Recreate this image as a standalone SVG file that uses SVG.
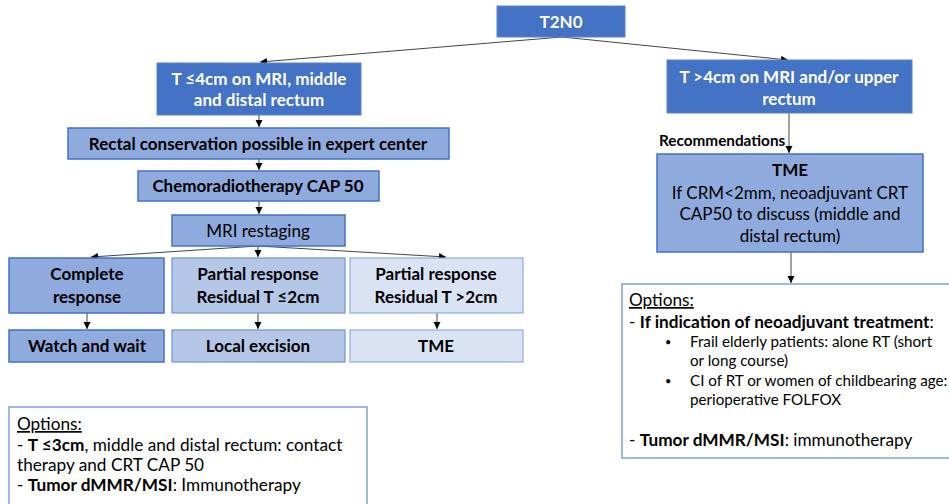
<svg xmlns="http://www.w3.org/2000/svg" width="949" height="504" viewBox="0 0 949 504">
<defs>
<marker id="ah" markerWidth="8" markerHeight="8" refX="7" refY="4" orient="auto" markerUnits="userSpaceOnUse">
<path d="M0,0.5 L7,4 L0,7.5 Z" fill="#000"/>
</marker>
<style>
text{font-family:Lato,"Liberation Sans",sans-serif;text-anchor:middle}
.dk{fill:#4472C4;stroke:#5B83CC;stroke-width:1}
.md{fill:#8FAADC;stroke:#4472C4;stroke-width:1.5}
.lt{fill:#B4C7E7;stroke:#6E93D3;stroke-width:1.2}
.xl{fill:#DAE3F3;stroke:#8FAADC;stroke-width:1.2}
.ob{fill:#fff;stroke:#6E93D3;stroke-width:1.3}
.w{fill:#fff;font-weight:bold;font-size:17px}
.b{fill:#000;font-weight:bold;font-size:17px}
.n{fill:#000;font-size:17px}
.o{fill:#000;font-size:17.2px;text-anchor:start}
.s{fill:#000;font-size:15.2px;text-anchor:start}
.c line{stroke:#444;stroke-width:1;fill:none;marker-end:url(#ah)}
</style>
</defs>
<g class="c">
<line x1="562" y1="37" x2="260" y2="62"/>
<line x1="562" y1="37" x2="788" y2="60"/>
<line x1="259" y1="115" x2="259" y2="127"/>
<line x1="259" y1="159" x2="259" y2="170"/>
<line x1="259" y1="201" x2="259" y2="214"/>
<line x1="258" y1="246" x2="91" y2="257"/>
<line x1="258" y1="246" x2="258" y2="257"/>
<line x1="258" y1="246" x2="446" y2="257"/>
<line x1="87" y1="313" x2="87" y2="329"/>
<line x1="258" y1="313" x2="258" y2="329"/>
<line x1="437" y1="313" x2="437" y2="329"/>
<line x1="789" y1="113" x2="789" y2="153"/>
<line x1="791" y1="252" x2="791" y2="283"/>
</g>
<g id="t2n0"><rect class="dk" x="497" y="6" width="128" height="31"/><text class="w" x="561" y="28">T2N0</text></g>
<g id="left"><rect class="dk" x="157" y="63" width="204" height="52"/><text class="w" x="259" y="85">T ≤4cm on MRI, middle</text><text class="w" x="259" y="106">and distal rectum</text></g>
<g id="right"><rect class="dk" x="667" y="60" width="245" height="53"/><text class="w" x="789" y="83">T &gt;4cm on MRI and/or upper</text><text class="w" x="789" y="105">rectum</text></g>
<g id="conservation"><rect class="md" x="68" y="128" width="381" height="31"/><text class="b" x="258" y="150">Rectal conservation possible in expert center</text></g>
<g id="crt"><rect class="md" x="138" y="171" width="241" height="30"/><text class="b" x="258" y="192">Chemoradiotherapy CAP 50</text></g>
<g id="mri"><rect class="md" x="172" y="215" width="173" height="31"/><text class="n" x="258" y="237">MRI restaging</text></g>
<g id="complete"><rect class="md" x="9" y="258" width="155" height="55"/><text class="b" x="87" y="280">Complete</text><text class="b" x="87" y="303">response</text></g>
<g id="partial2"><rect class="lt" x="172" y="258" width="173" height="55"/><text class="b" x="258" y="280">Partial response</text><text class="b" x="258" y="303">Residual T ≤2cm</text></g>
<g id="partial3"><rect class="xl" x="350" y="258" width="173" height="55"/><text class="b" x="436" y="280">Partial response</text><text class="b" x="436" y="303">Residual T &gt;2cm</text></g>
<g id="watch"><rect class="md" x="9" y="330" width="155" height="32"/><text class="b" x="87" y="352">Watch and wait</text></g>
<g id="excision"><rect class="lt" x="172" y="330" width="173" height="32"/><text class="b" x="258" y="352">Local excision</text></g>
<g id="tme-left"><rect class="xl" x="350" y="330" width="173" height="32"/><text class="b" x="436" y="352">TME</text></g>
<g id="recommendations"><text style="font-family:Lato,'Liberation Sans',sans-serif;font-weight:bold;font-size:15.3px;text-anchor:start" x="659" y="146">Recommendations</text></g>
<g id="tme-right"><rect class="md" x="657" y="154" width="266" height="98"/><text class="b" x="790" y="176">TME</text><text class="n" x="790" y="199">If CRM&lt;2mm, neoadjuvant CRT</text><text class="n" x="790" y="220">CAP50 to discuss (middle and</text><text class="n" x="790" y="242">distal rectum)</text></g>
<g id="options-left"><rect class="ob" x="9" y="407" width="358" height="110"/>
<text class="o" x="17" y="430" text-decoration="underline">Options:</text>
<text class="o" x="17" y="451">- <tspan font-weight="bold">T ≤3cm</tspan>, middle and distal rectum: contact</text>
<text class="o" x="17" y="471">therapy and CRT CAP 50</text>
<text class="o" x="17" y="491">- <tspan font-weight="bold">Tumor dMMR/MSI</tspan>: Immunotherapy</text>
</g>
<g id="options-right"><rect class="ob" x="622" y="284" width="340" height="174"/>
<text class="o" x="629" y="306" text-decoration="underline">Options:</text>
<text class="o" x="629" y="328">- <tspan font-weight="bold">If indication of neoadjuvant treatment</tspan>:</text>
<text class="s" x="665" y="346" style="font-size:11px">•</text>
<text class="s" x="690" y="347">Frail elderly patients: alone RT (short</text>
<text class="s" x="690" y="366">or long course)</text>
<text class="s" x="665" y="385" style="font-size:11px">•</text>
<text class="s" x="690" y="386">CI of RT or women of childbearing age:</text>
<text class="s" x="690" y="405">perioperative FOLFOX</text>
<text class="o" x="629" y="446">- <tspan font-weight="bold">Tumor dMMR/MSI</tspan>: immunotherapy</text>
</g>
</svg>
